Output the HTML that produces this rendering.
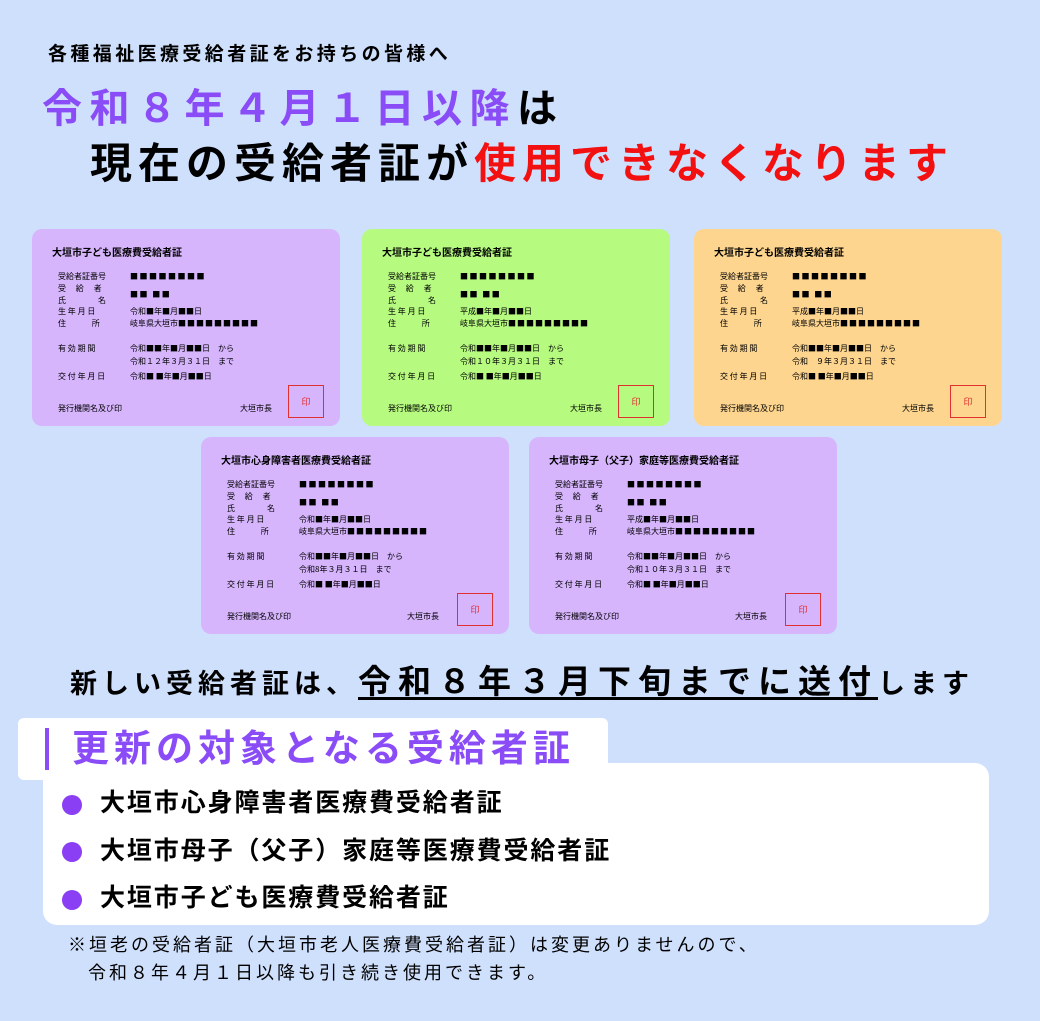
<!DOCTYPE html>
<html><head><meta charset="utf-8"><style>
*{margin:0;padding:0;box-sizing:border-box}
body{width:1040px;height:1021px;background:#cfe0fd;position:relative;overflow:hidden;font-family:"Liberation Sans","Noto Sans CJK JP",sans-serif;font-weight:bold;color:#000}
.a{position:absolute;white-space:nowrap;line-height:1}
.c{position:absolute;width:308px;height:197px;border-radius:10px;font-size:8px;font-weight:normal;font-family:"Noto Sans CJK JP",sans-serif}
.c div{position:absolute;white-space:nowrap;line-height:1}
.c .t{left:20px;top:18px;font-size:10px;font-weight:bold}
.c .l{left:26px}
.c .v{left:98px}
.c .sq{letter-spacing:1.5px}
.st{left:256px!important;top:156px;width:36px;height:33px;border:1px solid #e03030;color:#e03030;font-size:9px;text-align:center;line-height:31px!important}
.p{background:#d6b5fd}.g{background:#b6fb80}.o{background:#fdd58f}
.b{position:absolute;left:62px;width:20px;height:20px;border-radius:50%;background:#8a3ff5}
.bt{position:absolute;left:100px;font-size:25px;letter-spacing:1.9px;line-height:1;white-space:nowrap}
</style></head><body>

<div class="a" style="left:48px;top:45px;font-size:19px;letter-spacing:3.4px">各種福祉医療受給者証をお持ちの皆様へ</div>
<div class="a" style="left:42px;top:89px;font-size:40px;letter-spacing:7.5px;color:#8a4cf6">令和８年４月１日以降<span style="color:#000">は</span></div>
<div class="a" style="left:90px;top:143px;font-size:42px;letter-spacing:6px">現在の受給者証が<span style="color:#f21010">使用できなくなります</span></div>

<!-- card 1 -->
<div class="c p" style="left:32px;top:229px">
<div class="t">大垣市子ども医療費受給者証</div>
<div class="l" style="top:44px">受給者証番号</div><div class="v sq" style="top:44px">■■■■■■■■</div>
<div class="l" style="top:56px">受　 給　 者</div><div class="v sq" style="top:62px">■■ ■■</div>
<div class="l" style="top:68px">氏　　　　名</div>
<div class="l" style="top:79px">生 年 月 日</div><div class="v" style="top:79px">令和■年■月■■日</div>
<div class="l" style="top:91px">住　　　 所</div><div class="v" style="top:91px">岐阜県大垣市<span style="letter-spacing:1px">■■■■■■■■■</span></div>
<div class="l" style="top:116px">有 効 期 間</div><div class="v" style="top:116px">令和■■年■月■■日　から</div>
<div class="v" style="top:129px">令和１２年３月３１日　まで</div>
<div class="l" style="top:144px">交 付 年 月 日</div><div class="v" style="top:144px">令和■ ■年■月■■日</div>
<div class="l" style="top:176px">発行機関名及び印</div><div style="left:208px;top:176px">大垣市長</div>
<div class="st">印</div>
</div>

<!-- card 2 -->
<div class="c g" style="left:362px;top:229px">
<div class="t">大垣市子ども医療費受給者証</div>
<div class="l" style="top:44px">受給者証番号</div><div class="v sq" style="top:44px">■■■■■■■■</div>
<div class="l" style="top:56px">受　 給　 者</div><div class="v sq" style="top:62px">■■ ■■</div>
<div class="l" style="top:68px">氏　　　　名</div>
<div class="l" style="top:79px">生 年 月 日</div><div class="v" style="top:79px">平成■年■月■■日</div>
<div class="l" style="top:91px">住　　　 所</div><div class="v" style="top:91px">岐阜県大垣市<span style="letter-spacing:1px">■■■■■■■■■</span></div>
<div class="l" style="top:116px">有 効 期 間</div><div class="v" style="top:116px">令和■■年■月■■日　から</div>
<div class="v" style="top:129px">令和１０年３月３１日　まで</div>
<div class="l" style="top:144px">交 付 年 月 日</div><div class="v" style="top:144px">令和■ ■年■月■■日</div>
<div class="l" style="top:176px">発行機関名及び印</div><div style="left:208px;top:176px">大垣市長</div>
<div class="st">印</div>
</div>

<!-- card 3 -->
<div class="c o" style="left:694px;top:229px">
<div class="t">大垣市子ども医療費受給者証</div>
<div class="l" style="top:44px">受給者証番号</div><div class="v sq" style="top:44px">■■■■■■■■</div>
<div class="l" style="top:56px">受　 給　 者</div><div class="v sq" style="top:62px">■■ ■■</div>
<div class="l" style="top:68px">氏　　　　名</div>
<div class="l" style="top:79px">生 年 月 日</div><div class="v" style="top:79px">平成■年■月■■日</div>
<div class="l" style="top:91px">住　　　 所</div><div class="v" style="top:91px">岐阜県大垣市<span style="letter-spacing:1px">■■■■■■■■■</span></div>
<div class="l" style="top:116px">有 効 期 間</div><div class="v" style="top:116px">令和■■年■月■■日　から</div>
<div class="v" style="top:129px">令和　９年３月３１日　まで</div>
<div class="l" style="top:144px">交 付 年 月 日</div><div class="v" style="top:144px">令和■ ■年■月■■日</div>
<div class="l" style="top:176px">発行機関名及び印</div><div style="left:208px;top:176px">大垣市長</div>
<div class="st">印</div>
</div>

<!-- card 4 -->
<div class="c p" style="left:201px;top:437px">
<div class="t">大垣市心身障害者医療費受給者証</div>
<div class="l" style="top:44px">受給者証番号</div><div class="v sq" style="top:44px">■■■■■■■■</div>
<div class="l" style="top:56px">受　 給　 者</div><div class="v sq" style="top:62px">■■ ■■</div>
<div class="l" style="top:68px">氏　　　　名</div>
<div class="l" style="top:79px">生 年 月 日</div><div class="v" style="top:79px">令和■年■月■■日</div>
<div class="l" style="top:91px">住　　　 所</div><div class="v" style="top:91px">岐阜県大垣市<span style="letter-spacing:1px">■■■■■■■■■</span></div>
<div class="l" style="top:116px">有 効 期 間</div><div class="v" style="top:116px">令和■■年■月■■日　から</div>
<div class="v" style="top:129px">令和8年３月３１日　まで</div>
<div class="l" style="top:144px">交 付 年 月 日</div><div class="v" style="top:144px">令和■ ■年■月■■日</div>
<div class="l" style="top:176px">発行機関名及び印</div><div style="left:206px;top:176px">大垣市長</div>
<div class="st">印</div>
</div>

<!-- card 5 -->
<div class="c p" style="left:529px;top:437px">
<div class="t">大垣市母子（父子）家庭等医療費受給者証</div>
<div class="l" style="top:44px">受給者証番号</div><div class="v sq" style="top:44px">■■■■■■■■</div>
<div class="l" style="top:56px">受　 給　 者</div><div class="v sq" style="top:62px">■■ ■■</div>
<div class="l" style="top:68px">氏　　　　名</div>
<div class="l" style="top:79px">生 年 月 日</div><div class="v" style="top:79px">平成■年■月■■日</div>
<div class="l" style="top:91px">住　　　 所</div><div class="v" style="top:91px">岐阜県大垣市<span style="letter-spacing:1px">■■■■■■■■■</span></div>
<div class="l" style="top:116px">有 効 期 間</div><div class="v" style="top:116px">令和■■年■月■■日　から</div>
<div class="v" style="top:129px">令和１０年３月３１日　まで</div>
<div class="l" style="top:144px">交 付 年 月 日</div><div class="v" style="top:144px">令和■ ■年■月■■日</div>
<div class="l" style="top:176px">発行機関名及び印</div><div style="left:206px;top:176px">大垣市長</div>
<div class="st">印</div>
</div>

<div class="a" style="left:70px;top:665px;font-size:27px;letter-spacing:5px">新しい受給者証は、<span style="font-size:33px;letter-spacing:7px;text-decoration:underline;text-underline-offset:4px">令和８年３月下旬までに送付</span>します</div>

<div style="position:absolute;left:18px;top:718px;width:590px;height:62px;background:#fff;border-radius:6px"></div>
<div style="position:absolute;left:43px;top:763px;width:946px;height:162px;background:#fff;border-radius:14px"></div>
<div style="position:absolute;left:45px;top:728px;width:4px;height:42px;background:#8a4cf6"></div>
<div class="a" style="left:72px;top:730px;font-size:37px;letter-spacing:5px;color:#8a4cf6">更新の対象となる受給者証</div>

<div class="b" style="top:795px"></div><div class="bt" style="top:791px">大垣市心身障害者医療費受給者証</div>
<div class="b" style="top:842px"></div><div class="bt" style="top:839px">大垣市母子（父子）家庭等医療費受給者証</div>
<div class="b" style="top:890px"></div><div class="bt" style="top:886px">大垣市子ども医療費受給者証</div>

<div class="a" style="left:68px;top:936px;font-size:18px;letter-spacing:3px;font-weight:normal">※垣老の受給者証（大垣市老人医療費受給者証）は変更ありませんので、</div>
<div class="a" style="left:88px;top:964px;font-size:18px;letter-spacing:3px;font-weight:normal">令和８年４月１日以降も引き続き使用できます。</div>
</body></html>
